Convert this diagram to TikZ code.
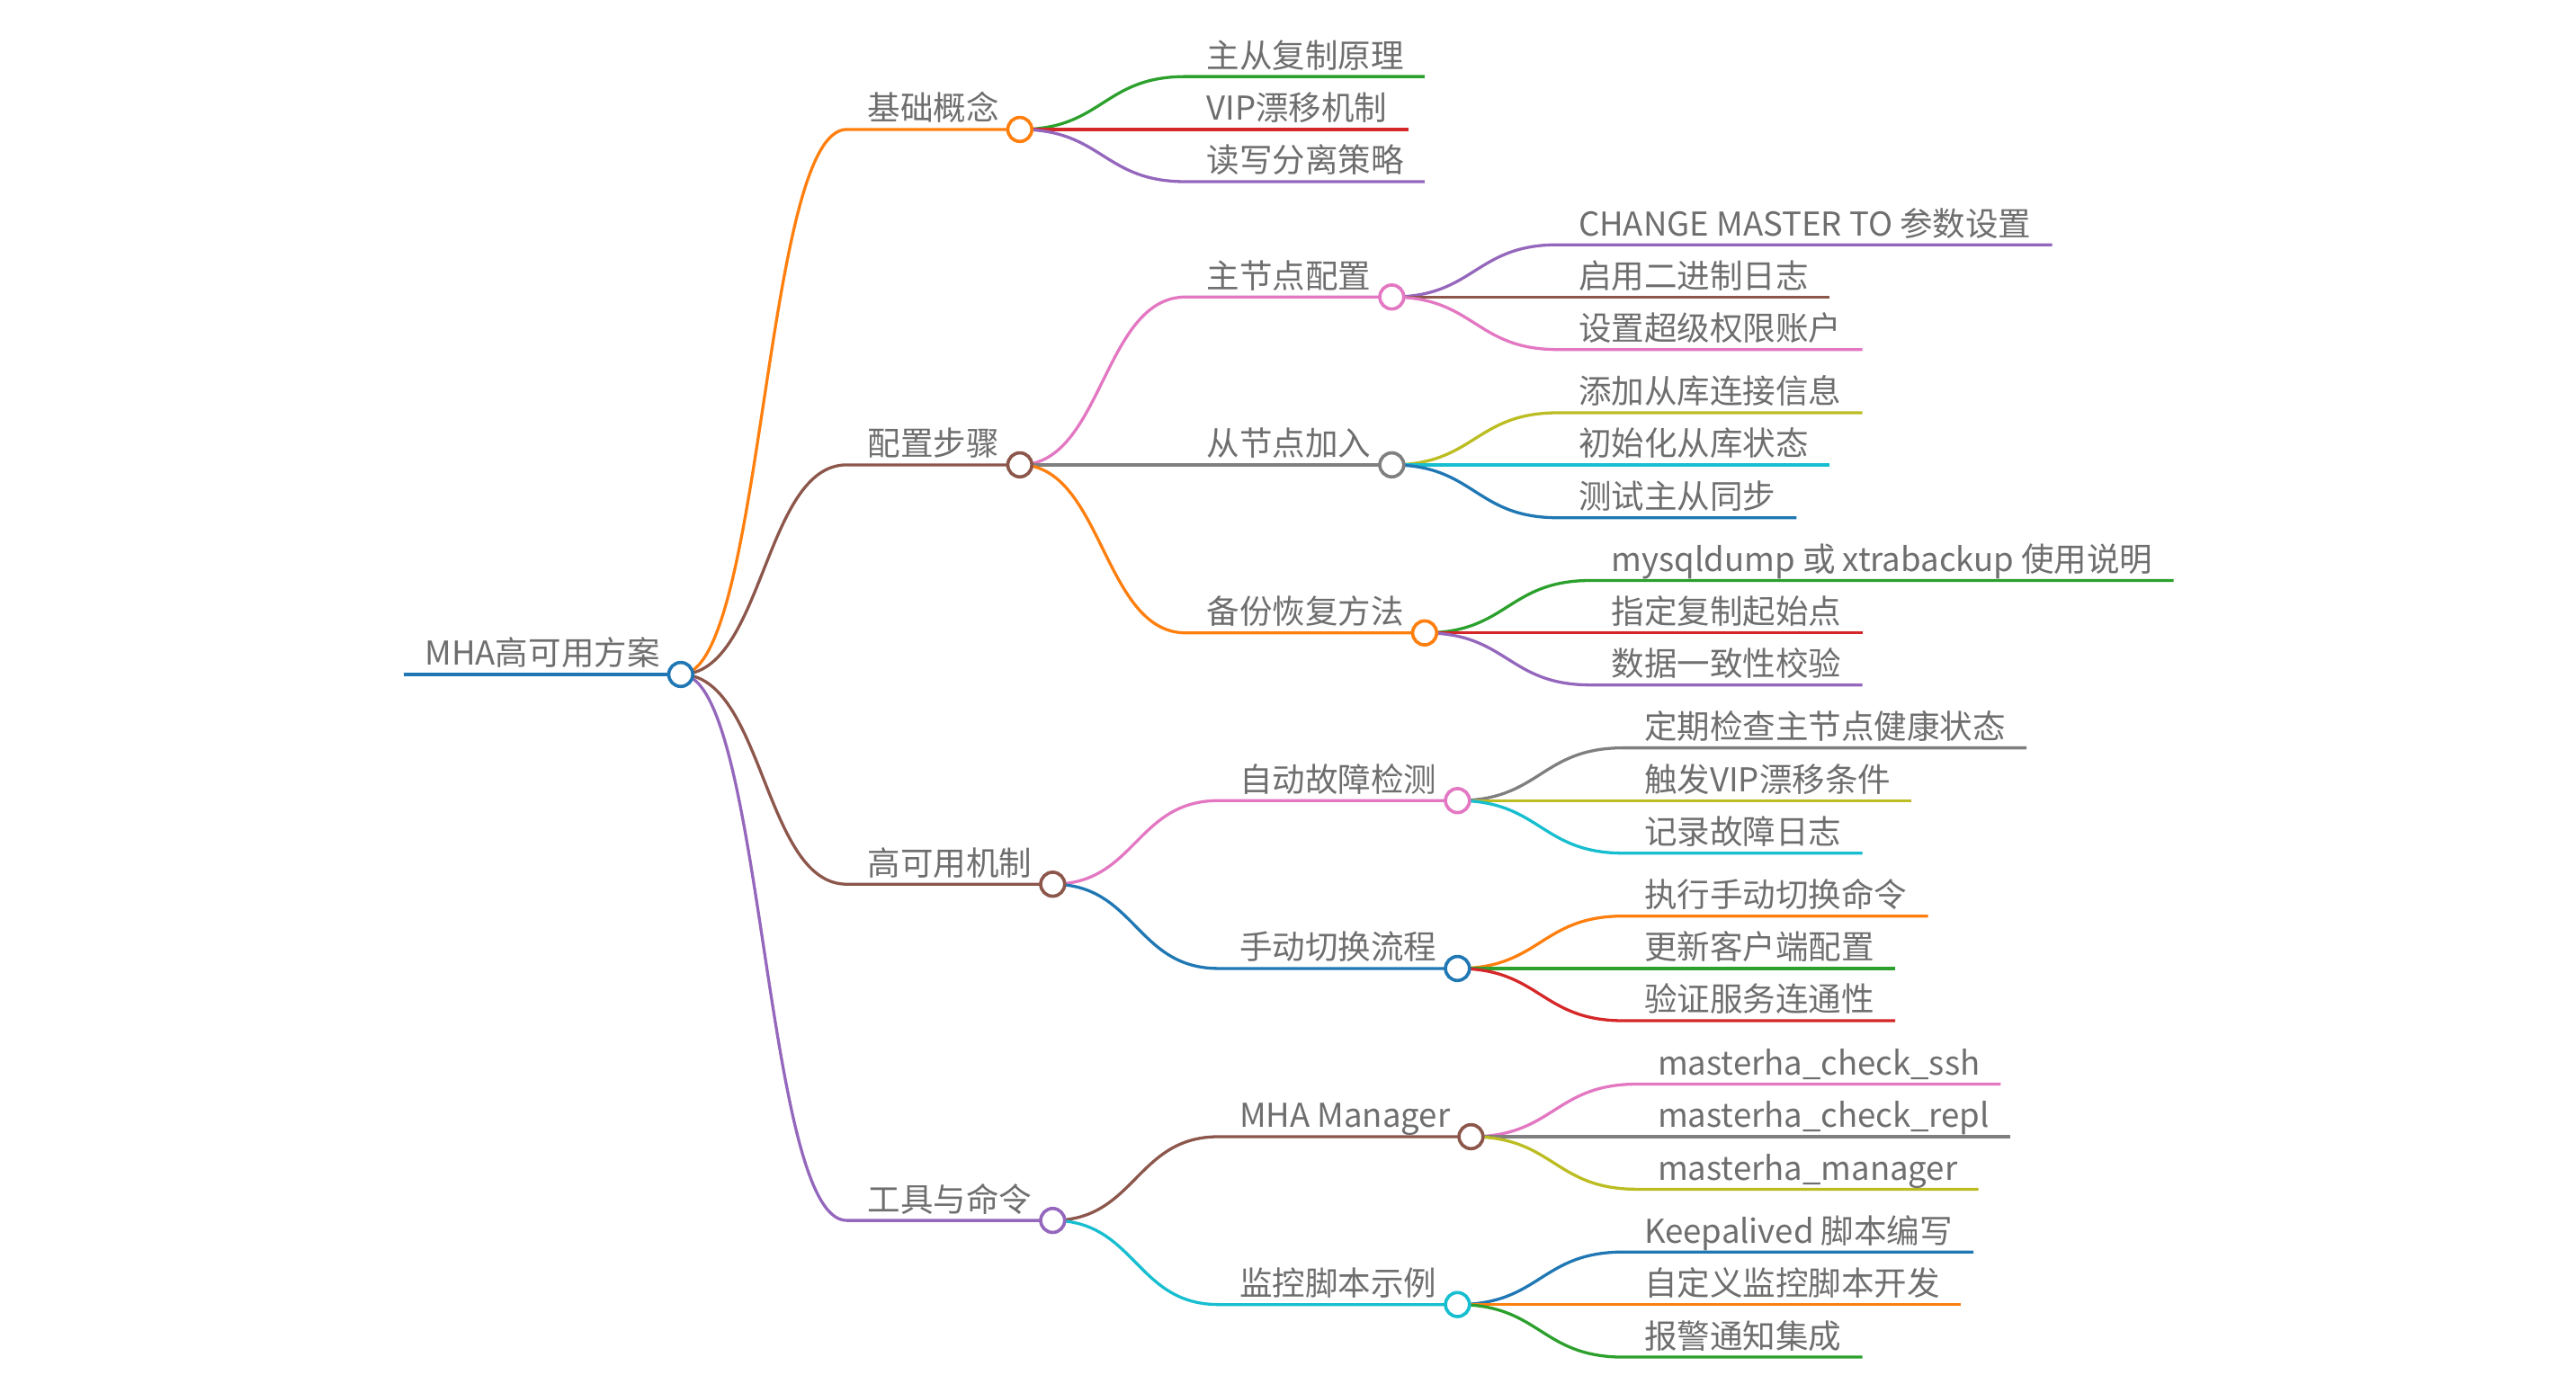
\documentclass[tikz,border=0pt]{standalone}
\usepackage{fontspec}
\setmainfont{Noto Sans CJK SC}
\usetikzlibrary{backgrounds}

\definecolor{mmblue}{HTML}{1F77B4}
\definecolor{mmorange}{HTML}{FF7F0E}
\definecolor{mmgreen}{HTML}{2CA02C}
\definecolor{mmred}{HTML}{D62728}
\definecolor{mmpurple}{HTML}{9467BD}
\definecolor{mmbrown}{HTML}{8C564B}
\definecolor{mmpink}{HTML}{E377C2}
\definecolor{mmgray}{HTML}{7F7F7F}
\definecolor{mmolive}{HTML}{BCBD22}
\definecolor{mmcyan}{HTML}{17BECF}
\definecolor{mmtext}{HTML}{6E6E6E}

% curve from the parent dot, then the underline of the child
\newcommand{\mmlink}[3]{%
  \begin{scope}[on background layer]
    \draw[link,#3] (#1.center) .. controls +(50.5,0) and +(-50.5,0) .. (#2-s) -- (#2-s -| #2-t.east);
  \end{scope}}
% parent, name, y, colour, text
\newcommand{\mmleaf}[5]{%
  \coordinate (#2-s) at ([xshift=101pt]#1.center |- 0,#3);
  \node[mmlabel] (#2-t) at ([yshift=5.5pt]#2-s) {#5};
  \mmlink{#1}{#2}{#4}}
\newcommand{\mmbranch}[5]{%
  \mmleaf{#1}{#2}{#3}{#4}{#5}
  \node[mmdot=#4] (#2) at (#2-s -| #2-t.east) {};}

\begin{document}
\begin{tikzpicture}[x=1pt,y=-1pt,
    mmlabel/.style={anchor=base west,inner xsep=12.5pt,inner ysep=0pt,text=mmtext,font=\fontsize{20}{24}\selectfont},
    mmdot/.style={circle,draw=#1,fill=white,line width=2pt,minimum size=14.6pt,inner sep=0pt},
    link/.style={line width=1.8pt}]
  \useasboundingbox (0,0) rectangle (1568,848);

  % root
  \coordinate (root-s) at (246,410.6);
  \node[mmlabel] (root-t) at ([yshift=5.5pt]root-s) {MHA高可用方案};
  \node[mmdot=mmblue] (root) at (root-s -| root-t.east) {};
  \begin{scope}[on background layer]
    \draw[link,mmblue] (root-s) -- (root);
  \end{scope}

  % first level
  \mmbranch{root}{basics}{78.8}{mmorange}{基础概念}
  \mmbranch{root}{setup}{283}{mmbrown}{配置步骤}
  \mmbranch{root}{ha}{538.3}{mmbrown}{高可用机制}
  \mmbranch{root}{tools}{743}{mmpurple}{工具与命令}

  % second level
  \mmbranch{setup}{master}{180.8}{mmpink}{主节点配置}
  \mmbranch{setup}{slave}{283}{mmgray}{从节点加入}
  \mmbranch{setup}{backup}{385.3}{mmorange}{备份恢复方法}
  \mmbranch{ha}{detect}{487.4}{mmpink}{自动故障检测}
  \mmbranch{ha}{switch}{589.6}{mmblue}{手动切换流程}
  \mmbranch{tools}{manager}{692}{mmbrown}{MHA Manager}
  \mmbranch{tools}{monitor}{794.2}{mmcyan}{监控脚本示例}

  % leaves
  \foreach \n/\y/\c/\t in {1/46.6/mmgreen/主从复制原理,2/78.8/mmred/VIP漂移机制,3/110.6/mmpurple/读写分离策略}
    \mmleaf{basics}{basics-\n}{\y}{\c}{\t};
  \foreach \n/\y/\c/\t in {1/149/mmpurple/CHANGE MASTER TO 参数设置,2/180.8/mmbrown/启用二进制日志,3/212.8/mmpink/设置超级权限账户}
    \mmleaf{master}{master-\n}{\y}{\c}{\t};
  \foreach \n/\y/\c/\t in {1/251.3/mmolive/添加从库连接信息,2/283/mmcyan/初始化从库状态,3/315.2/mmblue/测试主从同步}
    \mmleaf{slave}{slave-\n}{\y}{\c}{\t};
  \foreach \n/\y/\c/\t in {1/353.4/mmgreen/mysqldump 或 xtrabackup 使用说明,2/385.3/mmred/指定复制起始点,3/417/mmpurple/数据一致性校验}
    \mmleaf{backup}{backup-\n}{\y}{\c}{\t};
  \foreach \n/\y/\c/\t in {1/455.3/mmgray/定期检查主节点健康状态,2/487.4/mmolive/触发VIP漂移条件,3/519.4/mmcyan/记录故障日志}
    \mmleaf{detect}{detect-\n}{\y}{\c}{\t};
  \foreach \n/\y/\c/\t in {1/557.7/mmorange/执行手动切换命令,2/589.6/mmgreen/更新客户端配置,3/621.4/mmred/验证服务连通性}
    \mmleaf{switch}{switch-\n}{\y}{\c}{\t};
  \foreach \n/\y/\c/\t in {1/660/mmpink/masterha\_check\_ssh,2/692/mmgray/masterha\_check\_repl,3/724/mmolive/masterha\_manager}
    \mmleaf{manager}{manager-\n}{\y}{\c}{\t};
  \foreach \n/\y/\c/\t in {1/762.2/mmblue/Keepalived 脚本编写,2/794.2/mmorange/自定义监控脚本开发,3/826.2/mmgreen/报警通知集成}
    \mmleaf{monitor}{monitor-\n}{\y}{\c}{\t};
\end{tikzpicture}
\end{document}
